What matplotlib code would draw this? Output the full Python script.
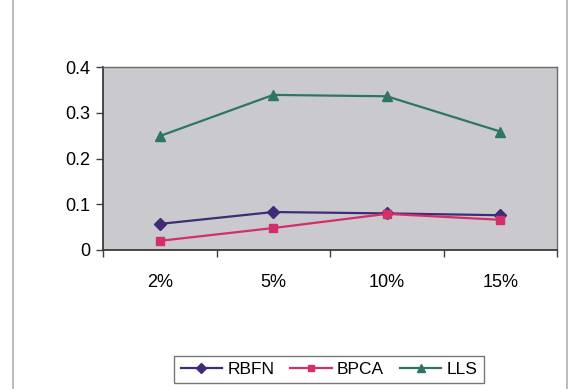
import matplotlib
matplotlib.use("Agg")
import matplotlib.pyplot as plt
from matplotlib.lines import Line2D

categories = ["2%", "5%", "10%", "15%"]
rbfn = [0.057, 0.083, 0.080, 0.076]
bpca = [0.020, 0.048, 0.079, 0.066]
lls = [0.249, 0.339, 0.336, 0.259]
y_ticks = [0, 0.1, 0.2, 0.3, 0.4]
y_tick_labels = ["0", "0.1", "0.2", "0.3", "0.4"]

plt.rcParams["font.family"] = ["Liberation Sans", "DejaVu Sans"]

W, H = 571, 389
fig = plt.figure(figsize=(W / 100, H / 100), dpi=100)
fig.patch.set_facecolor("white")

# outer chart-area frame (left and right edges)
for xp in (12.5, 567):
    fig.add_artist(Line2D([xp / W, xp / W], [0, 1], transform=fig.transFigure,
                          color="#b0b0b0", lw=1.2))

ax = fig.add_axes([103 / W, 1 - 250 / H, (557 - 103) / W, (250 - 67) / H])
ax.set_facecolor("#cacace")

x = list(range(len(categories)))
ax.plot(x, rbfn, color="#3f2b78", lw=1.6, marker="D", ms=6.5, label="RBFN")
ax.plot(x, bpca, color="#d22f6b", lw=1.6, marker="s", ms=6, label="BPCA")
ax.plot(x, lls, color="#2f7565", lw=1.6, marker="^", ms=7.5, label="LLS")

ax.set_xlim(-0.5, len(categories) - 0.5)
ax.set_ylim(0, 0.4)
ax.set_yticks(y_ticks)
ax.set_yticklabels(y_tick_labels)
ax.set_xticks(x)
ax.set_xticklabels(categories)
ax.set_xticks([i + 0.5 for i in range(-1, len(categories))], minor=True)

ax.tick_params(axis="y", length=5, width=1, color="#404040", labelsize=13, pad=4)
ax.tick_params(axis="x", which="major", length=0, labelsize=13, pad=17)
ax.tick_params(axis="x", which="minor", length=5, width=1, color="#404040")

for side in ("left", "bottom"):
    ax.spines[side].set_color("#3a3a3a")
    ax.spines[side].set_linewidth(1.3)
for side in ("top", "right"):
    ax.spines[side].set_color("#6a6a6a")
    ax.spines[side].set_linewidth(1.0)

leg = fig.legend(loc="center", bbox_to_anchor=(329 / W, 1 - 369.5 / H), ncol=3,
                 frameon=True, fancybox=False, edgecolor="#555555", fontsize=12.5,
                 handlelength=2.4, handletextpad=0.3, columnspacing=0.9,
                 borderpad=0.35, markerscale=0.75)
leg.get_frame().set_linewidth(1.0)

fig.savefig("out.png", dpi=100, facecolor="white")
